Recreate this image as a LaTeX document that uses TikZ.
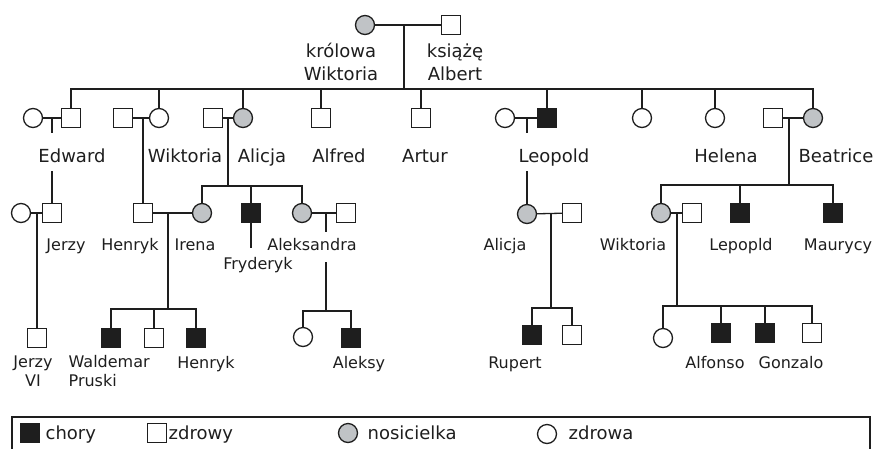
\documentclass[tikz,border=0pt]{standalone}
\usepackage{fontspec}
\setmainfont{DejaVu Sans}
\definecolor{ink}{RGB}{30,30,30}
\definecolor{carriergray}{RGB}{192,195,198}

\begin{document}
\begin{tikzpicture}[x=1pt, y=-1pt, line width=1.3pt, color=ink,
    man/.style={rectangle},
    woman/.style={circle},
    ill/.style={fill=ink},
    carrier/.style={fill=carriergray},
    kid/.style={to path={|- (\tikztotarget)}}]

      \useasboundingbox (0,0) rectangle (875,448);

      \begin{scope}[every node/.style={draw, fill=white, inner sep=0pt, minimum size=19pt}]
        \node[woman, carrier] (1)  at (365,25)  {};
        \node[man]            (2)  at (451,25)  {};

        \node[woman]          (3)  at (33,118)  {};
        \node[man]            (4)  at (71,118)  {};
        \node[man]            (5)  at (123,118) {};
        \node[woman]          (6)  at (159,118) {};
        \node[man]            (7)  at (213,118) {};
        \node[woman, carrier] (8)  at (243,118) {};
        \node[man]            (9)  at (321,118) {};
        \node[man]            (10) at (421,118) {};
        \node[woman]          (11) at (505,118) {};
        \node[man, ill]       (12) at (547,118) {};
        \node[woman]          (13) at (642,118) {};
        \node[woman]          (14) at (715,118) {};
        \node[man]            (15) at (773,118) {};
        \node[woman, carrier] (16) at (813,118) {};

        \node[woman]          (17) at (21,213)  {};
        \node[man]            (18) at (52,213)  {};
        \node[man]            (19) at (143,213) {};
        \node[woman, carrier] (20) at (202,213) {};
        \node[man, ill]       (21) at (251,213) {};
        \node[woman, carrier] (22) at (302,213) {};
        \node[man]            (23) at (346,213) {};
        \node[woman, carrier] (24) at (527,214) {};
        \node[man]            (25) at (572,213) {};
        \node[woman, carrier] (26) at (661,213) {};
        \node[man]            (27) at (692,213) {};
        \node[man, ill]       (28) at (740,213) {};
        \node[man, ill]       (29) at (833,213) {};

        \node[man]            (30) at (37,338)  {};
        \node[man, ill]       (31) at (111,338) {};
        \node[man]            (32) at (154,338) {};
        \node[man, ill]       (33) at (196,338) {};
        \node[woman]          (34) at (303,337) {};
        \node[man, ill]       (35) at (351,338) {};
        \node[man, ill]       (36) at (532,335) {};
        \node[man]            (37) at (572,335) {};
        \node[woman]          (38) at (663,338) {};
        \node[man, ill]       (39) at (721,333) {};
        \node[man, ill]       (40) at (765,333) {};
        \node[man]            (41) at (812,333) {};

        \node[man, ill]       (42) at (30,433)  {};
        \node[man]            (43) at (157,433) {};
        \node[woman, carrier] (44) at (348,433) {};
        \node[woman]          (45) at (547,434) {};
      \end{scope}

      \coordinate (m1)  at (404,25);
      \coordinate (b1)  at (404,89);
      \coordinate (m2)  at (52,118);
      \coordinate (m3)  at (143,118);
      \coordinate (m4)  at (228,118);
      \coordinate (b4)  at (228,186);
      \coordinate (m5)  at (527,118);
      \coordinate (m6)  at (789,118);
      \coordinate (b6)  at (789,185);
      \coordinate (m7)  at (37,213);
      \coordinate (m8)  at (168,213);
      \coordinate (b8)  at (168,309);
      \coordinate (m9)  at (326,213);
      \coordinate (b9)  at (326,311);
      \coordinate (m10) at (551,213);
      \coordinate (b10) at (551,308);
      \coordinate (m11) at (677,213);
      \coordinate (b11) at (677,306);
      \coordinate (s21) at (251,248);

      \begin{scope}[every edge/.style={draw}]
        \path (1)   edge (2);
        \path (m1)  edge (b1);
        \path (4)   edge[kid] (b1);
        \path (6)   edge[kid] (b1);
        \path (8)   edge[kid] (b1);
        \path (9)   edge[kid] (b1);
        \path (10)  edge[kid] (b1);
        \path (12)  edge[kid] (b1);
        \path (13)  edge[kid] (b1);
        \path (14)  edge[kid] (b1);
        \path (16)  edge[kid] (b1);

        \path (3)   edge (4);
        \path (5)   edge (6);
        \path (7)   edge (8);
        \path (11)  edge (12);
        \path (15)  edge (16);
        \path (m2)  edge (18);
        \path (m3)  edge (19);
        \path (m4)  edge (b4);
        \path (m5)  edge (24);
        \path (m6)  edge (b6);
        \path (20)  edge[kid] (b4);
        \path (21)  edge[kid] (b4);
        \path (22)  edge[kid] (b4);
        \path (26)  edge[kid] (b6);
        \path (28)  edge[kid] (b6);
        \path (29)  edge[kid] (b6);
        \path (21)  edge (s21);

        \path (17)  edge (18);
        \path (19)  edge (20);
        \path (22)  edge (23);
        \path (24)  edge (25);
        \path (26)  edge (27);
        \path (m7)  edge (30);
        \path (m8)  edge (b8);
        \path (m9)  edge (b9);
        \path (m10) edge (b10);
        \path (m11) edge (b11);
        \path (31)  edge[kid] (b8);
        \path (32)  edge[kid] (b8);
        \path (33)  edge[kid] (b8);
        \path (34)  edge[kid] (b9);
        \path (35)  edge[kid] (b9);
        \path (36)  edge[kid] (b10);
        \path (37)  edge[kid] (b10);
        \path (38)  edge[kid] (b11);
        \path (39)  edge[kid] (b11);
        \path (40)  edge[kid] (b11);
        \path (41)  edge[kid] (b11);
      \end{scope}

      \begin{scope}[every node/.style={fill=white, inner sep=1pt, font=\fontsize{18}{23}\selectfont}]
        \node[align=center] (t1) at (341,62) {królowa\\Wiktoria};
        \node[align=center] (t2) at (455,62) {książę\\Albert};
      \end{scope}

      \begin{scope}[every node/.style={fill=white, inner sep=1pt, anchor=base,
          text height=28pt, text depth=8pt, font=\fontsize{18}{23}\selectfont}]
        \node (t3)  at (72,162)  {Edward};
        \node (t4)  at (185,162) {Wiktoria};
        \node (t5)  at (262,162) {Alicja};
        \node (t6)  at (339,162) {Alfred};
        \node (t7)  at (425,162) {Artur};
        \node (t8)  at (554,162) {Leopold};
        \node (t9)  at (726,162) {Helena};
        \node (t10) at (836,162) {Beatrice};
      \end{scope}

      \begin{scope}[every node/.style={fill=white, inner sep=1pt, anchor=base,
          text height=17pt, text depth=11pt, font=\fontsize{16}{19}\selectfont}]
        \node (t11) at (66,250)  {Jerzy};
        \node (t12) at (130,250) {Henryk};
        \node (t13) at (195,250) {Irena};
        \node (t15) at (312,250) {Aleksandra};
        \node (t14) at (258,269) {Fryderyk};
        \node (t16) at (505,250) {Alicja};
        \node (t17) at (633,250) {Wiktoria};
        \node (t18) at (741,250) {Lepopld};
        \node (t19) at (838,250) {Maurycy};
      \end{scope}

      \begin{scope}[every node/.style={inner sep=1pt, font=\fontsize{16}{19}\selectfont}]
        \node[align=center] (t20) at (33,371.5) {Jerzy\\VI};
        \node[align=left, anchor=west] (t21) at (67,371.5) {Waldemar\\Pruski};
        \node[anchor=base] (t22) at (206,368) {Henryk};
        \node[anchor=base] (t23) at (359,368) {Aleksy};
        \node[anchor=base] (t24) at (515,368) {Rupert};
        \node[anchor=base] (t25) at (715,368) {Alfonso};
        \node[anchor=base] (t26) at (791,368) {Gonzalo};
      \end{scope}

      \draw (12,417) rectangle (870,460);
      \begin{scope}[every node/.style={inner sep=1pt, anchor=base west, font=\fontsize{18}{23}\selectfont}]
        \node (t27) at (44,439)  {chory};
        \node (t28) at (167,439) {zdrowy};
        \node (t29) at (366,439) {nosicielka};
        \node (t30) at (567,439) {zdrowa};
      \end{scope}

    \end{tikzpicture}
\end{document}
